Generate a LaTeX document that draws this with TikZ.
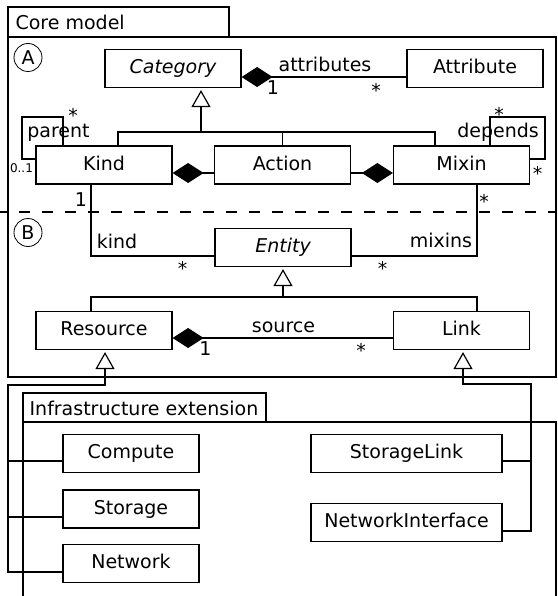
\documentclass[tikz,border=0pt]{standalone}
\usepackage{fontspec}
\setmainfont{DejaVu Sans}
\usetikzlibrary{arrows.meta}

\begin{document}
\begin{tikzpicture}[x=1pt,y=-1pt,line width=1.2pt,
                    font=\fontsize{19}{22}\selectfont,
                    cls/.style={draw,rectangle,minimum width=136pt,minimum height=38pt,
                                inner sep=0pt,text height=14pt,text depth=4pt},
                    wide/.style={cls,minimum width=191pt},
                    lbl/.style={inner sep=0pt,anchor=base},
                    pkg/.style={circle,draw,line width=0.8pt,minimum size=28pt,inner sep=0pt},
                    gen/.style={-{Triangle[open,length=17pt,width=19pt]},shorten >=2pt},
                    comp/.style={-{Diamond[length=31pt,width=20pt]}}]
  \useasboundingbox (0,0) rectangle (557,596);

  % packages
  \draw (8,7) rectangle (229,37);
  \node[lbl,anchor=base west] (coretab) at (15,30) {Core model};
  \draw (8,37) rectangle (556,377);
  \draw (23,596) -- (23,393) -- (266,393) -- (266,422);
  \draw (23,422) -- (556,422) -- (556,596);
  \node[lbl,anchor=base west] (infratab) at (29,415) {Infrastructure extension};
  \draw[dash pattern=on 11pt off 12pt,dash phase=4pt] (0,212) -- (557,212);
  \node[pkg] (pkgA) at (28,57.5) {A};
  \node[pkg] (pkgB) at (28,232.5) {B};

  % classes
  \node[cls]  (Category)    at (173,68.5)    {\itshape Category};
  \node[cls]  (Attribute)   at (475,68.5)    {Attribute};
  \node[cls]  (Kind)        at (104,165)     {Kind};
  \node[cls]  (Action)      at (282.5,165)   {Action};
  \node[cls]  (Mixin)       at (461.5,165)   {Mixin};
  \node[cls]  (Entity)      at (283,247.5)   {\itshape Entity};
  \node[cls]  (Resource)    at (104,330.5)   {Resource};
  \node[cls]  (Link)        at (461.5,330.5) {Link};
  \node[cls]  (Compute)     at (131,453.5)   {Compute};
  \node[cls]  (Storage)     at (131,509)     {Storage};
  \node[cls]  (Network)     at (131,563.5)   {Network};
  \node[wide] (StorageLink) at (406.5,453.5) {StorageLink};
  \node[wide] (NetIface)    at (406.5,522.5) {NetworkInterface};

  \coordinate (catbus)   at (201,132);
  \coordinate (entbus)   at (283,297);
  \coordinate (parentc)  at (22,117);
  \coordinate (dependc)  at (545,117);
  \coordinate (resrail)  at (8,385);
  \coordinate (linkrail) at (531,384);

  % generalisations
  \draw[gen] (catbus) -- (catbus |- Category.south);
  \draw ([xshift=14pt]Kind.north) |- (catbus) -| ([xshift=-26.5pt]Mixin.north);
  \draw (Action.north) -- (Action.north |- catbus);
  \draw[gen] (entbus) -- (Entity.south);
  \draw ([xshift=-13pt]Resource.north) |- (entbus) -| ([xshift=15.5pt]Link.north);
  \draw[gen] ([yshift=-8.5pt]Network.west) -| (resrail) -| ([xshift=1pt]Resource.south);
  \draw ([yshift=-7.5pt]Compute.west) -| (resrail);
  \draw ([yshift=-8pt]Storage.west) -| (resrail);
  \draw[gen] ([yshift=-8.5pt]NetIface.east) -| (linkrail) -| ([xshift=1.5pt]Link.south);
  \draw ([yshift=-7.5pt]StorageLink.east) -| (linkrail);

  % associations
  \draw[comp] ([yshift=-8.5pt]Attribute.west) -- ([yshift=-8.5pt]Category.east);
  \draw[comp] ([yshift=-8pt]Action.west) -- ([yshift=-8pt]Kind.east);
  \draw[comp] ([yshift=-8pt]Action.east) -- ([yshift=-8pt]Mixin.west);
  \draw[comp] ([yshift=-7.5pt]Link.west) -- ([yshift=-7.5pt]Resource.east);
  \draw ([xshift=-41pt]Kind.north) |- (parentc) |- ([yshift=6pt]Kind.west);
  \draw ([xshift=28.5pt]Mixin.north) |- (dependc) |- ([yshift=6pt]Mixin.east);
  \draw ([xshift=-13pt]Kind.south) |- ([yshift=-8.5pt]Entity.west);
  \draw ([xshift=15.5pt]Mixin.south) |- ([yshift=-8.5pt]Entity.east);

  % roles and multiplicities
  \node[lbl] (attrrole)  at (325,72)    {attributes};
  \node[lbl] (attrone)   at (273,95)    {1};
  \node[lbl] (attrmany)  at (376,98)    {*};
  \node[lbl] (parrole)   at (58.5,138)  {parent};
  \node[lbl] (parmany)   at (73,122.5)  {*};
  \node[lbl,font=\fontsize{12}{14}\selectfont] (parone) at (21.5,172) {0..1};
  \node[lbl] (deprole)   at (498,138)   {depends};
  \node[lbl] (depmanyA)  at (499,122)   {*};
  \node[lbl] (depmanyB)  at (537.5,180) {*};
  \node[lbl] (kindone)   at (81,206)    {1};
  \node[lbl] (kindrole)  at (117,248)   {kind};
  \node[lbl] (kindmany)  at (182.5,275) {*};
  \node[lbl] (mixmanyA)  at (484,208)   {*};
  \node[lbl] (mixrole)   at (441,247)   {mixins};
  \node[lbl] (mixmanyB)  at (382.5,275.5) {*};
  \node[lbl] (srcrole)   at (283.5,332) {source};
  \node[lbl] (srcone)    at (205.5,355) {1};
  \node[lbl] (srcmany)   at (361,357.5) {*};
\end{tikzpicture}
\end{document}
